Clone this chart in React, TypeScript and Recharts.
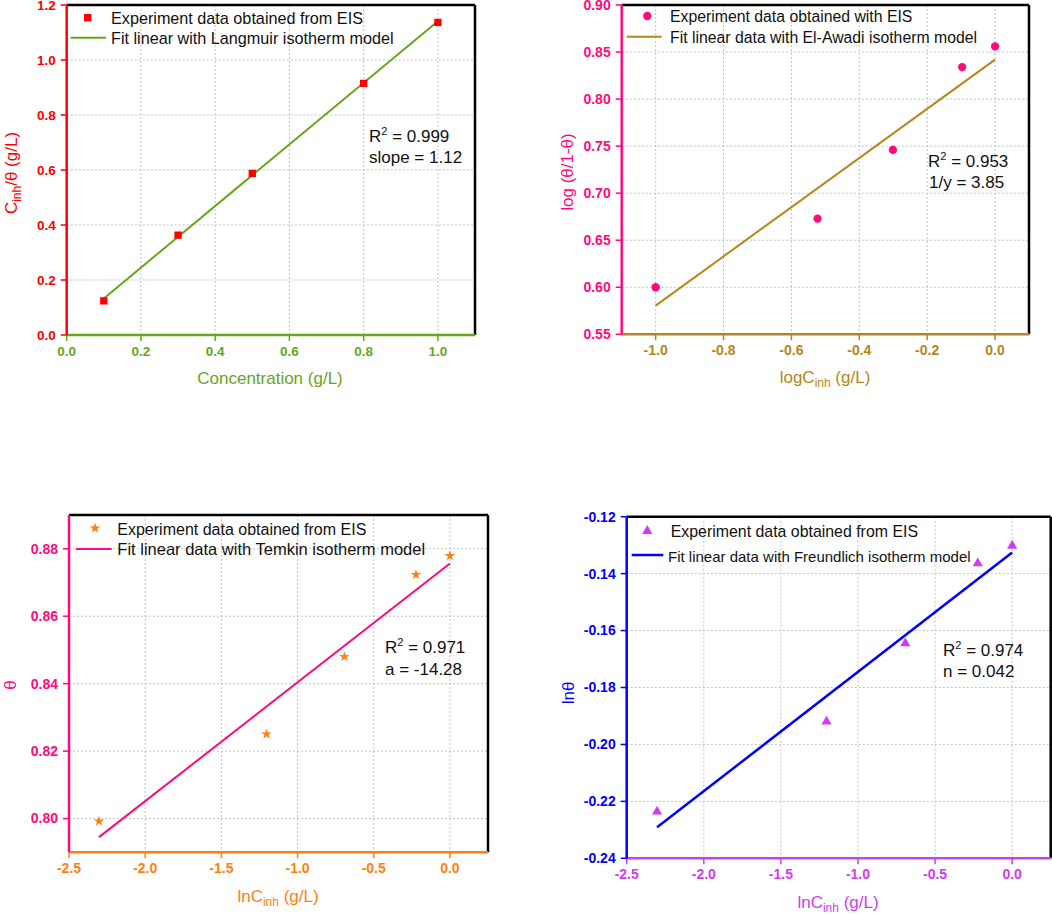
import React from 'react';
import { ScatterChart, Scatter, XAxis, YAxis, CartesianGrid, ReferenceLine, Symbols } from 'recharts';

const FONT = '"Liberation Sans", Arial, Helvetica, sans-serif';

// ---- Panel A: Langmuir ----
const langmuirConc = [0.1, 0.3, 0.5, 0.8, 1.0];
const langmuirCTheta = [0.124, 0.363, 0.588, 0.915, 1.137];
const langmuirFitX = [0.1, 1.0];
const langmuirFitY = [0.133, 1.141];
const langmuirXTicks = [0, 0.2, 0.4, 0.6, 0.8, 1.0];
const langmuirYTicks = [0, 0.2, 0.4, 0.6, 0.8, 1.0, 1.2];

// ---- Panel B: El-Awadi ----
const awadiLogC = [-1.0, -0.523, -0.301, -0.097, 0.0];
const awadiLogTheta = [0.6, 0.673, 0.746, 0.834, 0.856];
const awadiFitX = [-1.0, 0.0];
const awadiFitY = [0.5805, 0.842];
const awadiXTicks = [-1.0, -0.8, -0.6, -0.4, -0.2, 0.0];
const awadiYTicks = [0.55, 0.6, 0.65, 0.7, 0.75, 0.8, 0.85, 0.9];

// ---- Panel C: Temkin ----
const temkinLnC = [-2.303, -1.204, -0.693, -0.223, 0.0];
const temkinTheta = [0.7992, 0.825, 0.848, 0.8723, 0.8779];
const temkinFitX = [-2.303, 0.0];
const temkinFitY = [0.7945, 0.8756];
const temkinXTicks = [-2.5, -2.0, -1.5, -1.0, -0.5, 0.0];
const temkinYTicks = [0.8, 0.82, 0.84, 0.86, 0.88];

// ---- Panel D: Freundlich ----
const freundLnC = [-2.303, -1.204, -0.693, -0.223, 0.0];
const freundLnTheta = [-0.2236, -0.192, -0.1645, -0.1364, -0.1302];
const freundFitX = [-2.303, 0.0];
const freundFitY = [-0.2291, -0.1326];
const freundXTicks = [-2.5, -2.0, -1.5, -1.0, -0.5, 0.0];
const freundYTicks = [-0.24, -0.22, -0.2, -0.18, -0.16, -0.14, -0.12];

const zip = (xs: number[], ys: number[]) => xs.map((x, i) => ({ x, y: ys[i] }));

const RED = '#ff0000';
const GREEN = '#67a51c';
const PINK = '#ff0a7e';
const GOLD = '#b5861a';
const ORANGE = '#ff8010';
const BLUE = '#0000ff';
const VIOLET = '#d03cf2';

const fmt = (d: number) => (v: number) => {
  const s = Number(v).toFixed(d);
  return s === '-0.0' ? '0.0' : s;
};

const makeTick = (axis: 'x' | 'y', color: string, digits: number, size: number) => (props: any) => {
  const { x, y, payload } = props;
  return (
    <text
      x={x}
      y={y}
      dy={axis === 'x' ? '0.71em' : '0.35em'}
      textAnchor={axis === 'x' ? 'middle' : 'end'}
      fill={color}
      fontSize={size}
      fontWeight={700}
      fontFamily={FONT}
    >
      {fmt(digits)(payload.value)}
    </text>
  );
};

type PanelProps = {
  ox: number; oy: number; w: number; h: number;
  margin: { top: number; right: number; bottom: number; left: number };
  yW: number; xH: number;
  xDomain: [number, number]; yDomain: [number, number];
  xTicks: number[]; yTicks: number[];
  xDigits: number; yDigits: number;
  xColor: string; yColor: string;
  tickFont: number;
  pts: { x: number; y: number }[];
  fit: { x: number; y: number }[];
  markerType: any; markerSize: number; markerColor: string;
  fitColor: string; fitW: number;
  children?: React.ReactNode;
};

const Panel = (p: PanelProps) => (
  <div style={{ position: 'absolute', left: p.ox, top: p.oy, width: p.w, height: p.h }}>
    <ScatterChart width={p.w} height={p.h} margin={p.margin} style={{ overflow: 'visible' }}>
      <CartesianGrid stroke="#c2c2c2" strokeDasharray="2 2" strokeWidth={1} />
      <XAxis
        type="number"
        dataKey="x"
        domain={p.xDomain}
        ticks={p.xTicks}
        interval={0}
        allowDataOverflow
        height={p.xH}
        axisLine={{ stroke: p.xColor, strokeWidth: 2.5 }}
        tickLine={{ stroke: p.xColor, strokeWidth: 1.5 }}
        tickSize={6}
        tickMargin={5}
        tick={makeTick('x', p.xColor, p.xDigits, p.tickFont)}
      />
      <YAxis
        type="number"
        dataKey="y"
        domain={p.yDomain}
        ticks={p.yTicks}
        interval={0}
        allowDataOverflow
        width={p.yW}
        axisLine={{ stroke: p.yColor, strokeWidth: 2.5 }}
        tickLine={{ stroke: p.yColor, strokeWidth: 1.5 }}
        tickSize={6}
        tickMargin={5}
        tick={makeTick('y', p.yColor, p.yDigits, p.tickFont)}
      />
      <ReferenceLine y={p.yDomain[1]} stroke="#000" strokeWidth={2.5} />
      <ReferenceLine x={p.xDomain[1]} stroke="#000" strokeWidth={2.5} />
      <Scatter
        data={p.fit}
        line={{ stroke: p.fitColor, strokeWidth: p.fitW }}
        shape={() => <g />}
        isAnimationActive={false}
        legendType="none"
      />
      <Scatter
        data={p.pts}
        isAnimationActive={false}
        shape={(s: any) => (
          <Symbols cx={s.cx} cy={s.cy} type={p.markerType} size={p.markerSize} fill={p.markerColor} />
        )}
      />
      <g transform={`translate(${-p.ox},${-p.oy})`} fontFamily={FONT}>
        {p.children}
      </g>
    </ScatterChart>
  </div>
);

const Txt = ({ x, y, size = 16.2, fill = '#111', anchor = 'start', children }: any) => (
  <text x={x} y={y} fontSize={size} fill={fill} textAnchor={anchor} fontFamily={FONT}>
    {children}
  </text>
);

const R2 = ({ x, y, value }: { x: number; y: number; value: string }) => (
  <text x={x} y={y} fontSize={17} fill="#111" fontFamily={FONT}>
    R<tspan fontSize={11} dy={-7}>2</tspan>
    <tspan dy={7}>{` = ${value}`}</tspan>
  </text>
);

const YTitle = ({ cx, cy, fill, children }: any) => (
  <text
    x={cx}
    y={cy}
    dy="0.35em"
    fontSize={17}
    fill={fill}
    textAnchor="middle"
    fontFamily={FONT}
    transform={`rotate(-90 ${cx} ${cy})`}
  >
    {children}
  </text>
);

const LnCTitle = ({ cx, y, fill, prefix }: any) => (
  <text x={cx} y={y} fontSize={17} fill={fill} textAnchor="middle" fontFamily={FONT}>
    {prefix}C<tspan fontSize={12} dy={4}>inh</tspan>
    <tspan dy={-4}> (g/L)</tspan>
  </text>
);

export default function App() {
  return (
    <div style={{ position: 'absolute', left: 0, top: 0, width: 1052, height: 914, background: '#fff', fontFamily: FONT }}>
      {/* Panel A */}
      <Panel
        ox={0} oy={0} w={480} h={390}
        margin={{ top: 5, right: 5, bottom: 0, left: 0 }}
        yW={66.7} xH={55}
        xDomain={[0, 1.1]} yDomain={[0, 1.2]}
        xTicks={langmuirXTicks} yTicks={langmuirYTicks}
        xDigits={1} yDigits={1}
        xColor={GREEN} yColor={RED} tickFont={13.5}
        pts={zip(langmuirConc, langmuirCTheta)}
        fit={zip(langmuirFitX, langmuirFitY)}
        markerType="square" markerSize={54} markerColor={RED}
        fitColor={GREEN} fitW={2}
      >
        <Symbols cx={87.7} cy={17.7} type="square" size={54} fill={RED} />
        <line x1={70.7} x2={106} y1={37.7} y2={37.7} stroke={GREEN} strokeWidth={2} />
        <Txt x={111} y={24}>Experiment data obtained from EIS</Txt>
        <Txt x={111} y={43.5}>Fit linear with Langmuir isotherm model</Txt>
        <R2 x={369} y={142} value="0.999" />
        <Txt x={369} y={163} size={17}>slope = 1.12</Txt>
        <Txt x={270} y={384} size={17} fill={GREEN} anchor="middle">Concentration (g/L)</Txt>
        <YTitle cx={11} cy={173} fill={RED}>
          C<tspan fontSize={12} dy={4}>inh</tspan>
          <tspan dy={-4}>/θ (g/L)</tspan>
        </YTitle>
      </Panel>

      {/* Panel B */}
      <Panel
        ox={530} oy={0} w={522} h={390}
        margin={{ top: 5, right: 23, bottom: 0, left: 0 }}
        yW={91.7} xH={55.7}
        xDomain={[-1.1, 0.1]} yDomain={[0.55, 0.9]}
        xTicks={awadiXTicks} yTicks={awadiYTicks}
        xDigits={1} yDigits={2}
        xColor={GOLD} yColor={PINK} tickFont={14}
        pts={zip(awadiLogC, awadiLogTheta)}
        fit={zip(awadiFitX, awadiFitY)}
        markerType="circle" markerSize={54} markerColor={PINK}
        fitColor={GOLD} fitW={2}
      >
        <Symbols cx={647.3} cy={16} type="circle" size={54} fill={PINK} />
        <line x1={626.7} x2={661.7} y1={36.7} y2={36.7} stroke={GOLD} strokeWidth={2} />
        <Txt x={670} y={22} size={15.8}>Experiment data obtained with EIS</Txt>
        <Txt x={670} y={43} size={15.8}>Fit linear data with El-Awadi isotherm model</Txt>
        <R2 x={928} y={167} value="0.953" />
        <Txt x={929} y={188} size={17}>1/y = 3.85</Txt>
        <LnCTitle cx={825} y={383} fill={GOLD} prefix="log" />
        <YTitle cx={567.5} cy={172} fill={PINK}>log (θ/1-θ)</YTitle>
      </Panel>

      {/* Panel C */}
      <Panel
        ox={0} oy={500} w={500} h={414}
        margin={{ top: 15, right: 12, bottom: 0, left: 0 }}
        yW={69} xH={61.7}
        xDomain={[-2.5, 0.25]} yDomain={[0.79, 0.89]}
        xTicks={temkinXTicks} yTicks={temkinYTicks}
        xDigits={1} yDigits={2}
        xColor={ORANGE} yColor={PINK} tickFont={14}
        pts={zip(temkinLnC, temkinTheta)}
        fit={zip(temkinFitX, temkinFitY)}
        markerType="star" markerSize={34} markerColor={ORANGE}
        fitColor={PINK} fitW={2}
      >
        <Symbols cx={95} cy={528.3} type="star" size={34} fill={ORANGE} />
        <line x1={76} x2={111.7} y1={549} y2={549} stroke={PINK} strokeWidth={2} />
        <Txt x={117.3} y={534.7} size={16}>Experiment data obtained from EIS</Txt>
        <Txt x={117.3} y={555} size={16.5}>Fit linear data with Temkin isotherm model</Txt>
        <R2 x={385} y={653} value="0.971" />
        <Txt x={385} y={675} size={17}>a = -14.28</Txt>
        <LnCTitle cx={278} y={901.7} fill={ORANGE} prefix="ln" />
        <YTitle cx={10} cy={685} fill={PINK}>θ</YTitle>
      </Panel>

      {/* Panel D */}
      <Panel
        ox={530} oy={500} w={522} h={414}
        margin={{ top: 16.7, right: 1.3, bottom: 0, left: 0 }}
        yW={96.7} xH={55.7}
        xDomain={[-2.5, 0.25]} yDomain={[-0.24, -0.12]}
        xTicks={freundXTicks} yTicks={freundYTicks}
        xDigits={1} yDigits={2}
        xColor={VIOLET} yColor={BLUE} tickFont={14}
        pts={zip(freundLnC, freundLnTheta)}
        fit={zip(freundFitX, freundFitY)}
        markerType="triangle" markerSize={45} markerColor={VIOLET}
        fitColor={BLUE} fitW={2.5}
      >
        <Symbols cx={647.3} cy={531} type="triangle" size={45} fill={VIOLET} />
        <line x1={631.7} x2={663.3} y1={555} y2={555} stroke={BLUE} strokeWidth={2.5} />
        <Txt x={670.7} y={537} size={15.9}>Experiment data obtained from EIS</Txt>
        <Txt x={668} y={561.7} size={15}>Fit linear data with Freundlich isotherm model</Txt>
        <R2 x={943} y={656} value="0.974" />
        <Txt x={943} y={677} size={17}>n = 0.042</Txt>
        <LnCTitle cx={838} y={908} fill={VIOLET} prefix="ln" />
        <YTitle cx={568} cy={693} fill={BLUE}>lnθ</YTitle>
      </Panel>
    </div>
  );
}
